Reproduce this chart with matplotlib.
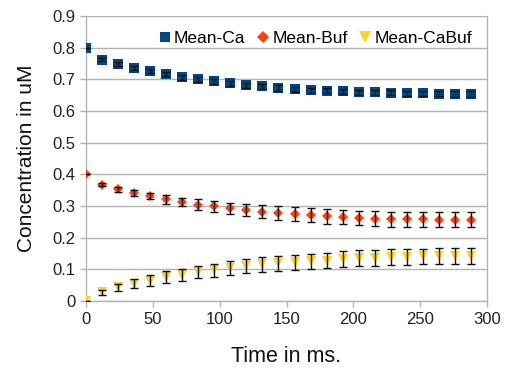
import numpy as np
import matplotlib
matplotlib.use("Agg")
import matplotlib.pyplot as plt

plt.rcParams['font.family'] = ['Liberation Sans', 'DejaVu Sans']

# Time points (ms)
time_ms = [0, 12, 24, 36, 48, 60, 72, 84, 96, 108, 120, 132, 144, 156, 168,
           180, 192, 204, 216, 228, 240, 252, 264, 276, 288]

# Mean concentrations (uM)
mean_ca = [0.800, 0.763, 0.748, 0.737, 0.726, 0.717, 0.707, 0.700, 0.694, 0.688,
           0.682, 0.678, 0.673, 0.669, 0.666, 0.664, 0.662, 0.660, 0.659, 0.658,
           0.657, 0.656, 0.655, 0.654, 0.654]
mean_buf = [0.400, 0.368, 0.353, 0.342, 0.332, 0.321, 0.313, 0.305, 0.300, 0.293,
            0.287, 0.283, 0.278, 0.274, 0.271, 0.268, 0.265, 0.263, 0.260, 0.259,
            0.258, 0.258, 0.257, 0.257, 0.257]
mean_cabuf = [0.000, 0.028, 0.044, 0.055, 0.065, 0.076, 0.084, 0.092, 0.097, 0.104,
              0.111, 0.116, 0.120, 0.123, 0.126, 0.128, 0.132, 0.135, 0.137, 0.139,
              0.140, 0.141, 0.142, 0.142, 0.143]

# Error bar half-widths
err_ca = [0.000, 0.006, 0.006, 0.007, 0.007, 0.007, 0.008, 0.008, 0.008, 0.008,
          0.008, 0.008, 0.008, 0.008, 0.008, 0.008, 0.008, 0.008, 0.008, 0.008,
          0.008, 0.008, 0.008, 0.008, 0.008]
err_buf = [0.000, 0.005, 0.007, 0.009, 0.011, 0.013, 0.014, 0.016, 0.017, 0.018,
           0.019, 0.020, 0.021, 0.022, 0.022, 0.023, 0.023, 0.023, 0.024, 0.024,
           0.024, 0.024, 0.024, 0.024, 0.024]
err_cabuf = [0.000, 0.008, 0.011, 0.014, 0.016, 0.018, 0.019, 0.020, 0.021, 0.022,
             0.023, 0.023, 0.024, 0.024, 0.024, 0.024, 0.025, 0.025, 0.025, 0.025,
             0.025, 0.025, 0.025, 0.025, 0.025]

fig = plt.figure(figsize=(5.08, 3.75), dpi=100)
ax = fig.add_axes([0.169, 0.197, 0.790, 0.760])

series = [
    (mean_ca, err_ca, 's', '#004586', 6.5, 'Mean-Ca'),
    (mean_buf, err_buf, 'D', '#ff420e', 5.5, 'Mean-Buf'),
    (mean_cabuf, err_cabuf, 'v', '#ffd320', 7.5, 'Mean-CaBuf'),
]
for vals, errs, mk, col, ms, lab in series:
    ax.plot(time_ms, vals, linestyle='none', marker=mk, color=col,
            markersize=ms, markeredgewidth=0, label=lab, zorder=3)
    ax.errorbar(time_ms, vals, yerr=errs, fmt='none', ecolor='#111111',
                elinewidth=1.0, capsize=2.8, capthick=1.0, zorder=4)

ax.set_xlim(0, 300)
ax.set_ylim(0, 0.9)
ax.set_xticks(np.arange(0, 301, 50))
ax.set_yticks(np.arange(0, 0.91, 0.1))
ax.set_yticklabels(['0', '0.1', '0.2', '0.3', '0.4', '0.5', '0.6', '0.7', '0.8', '0.9'])

ax.grid(axis='y', color='#b3b3b3', linewidth=1.0)
ax.set_axisbelow(True)
for side in ['left', 'bottom', 'right']:
    ax.spines[side].set_color('#b3b3b3')
    ax.spines[side].set_linewidth(1.0)
ax.spines['top'].set_visible(False)
ax.tick_params(axis='both', colors='#b3b3b3', labelcolor='#222222',
               labelsize=12, length=4, width=1.0, direction='out')

ax.set_xlabel('Time in ms.', fontsize=15.5, color='#111111', labelpad=14)
ax.set_ylabel('Concentration in uM', fontsize=15, color='#111111', labelpad=12)

ax.legend(loc='upper right', ncol=3, frameon=False, fontsize=12.5,
          handletextpad=0.05, columnspacing=0.5, handlelength=1.0,
          borderaxespad=0.45, markerscale=1.1)

fig.savefig('out.png', dpi=100)
